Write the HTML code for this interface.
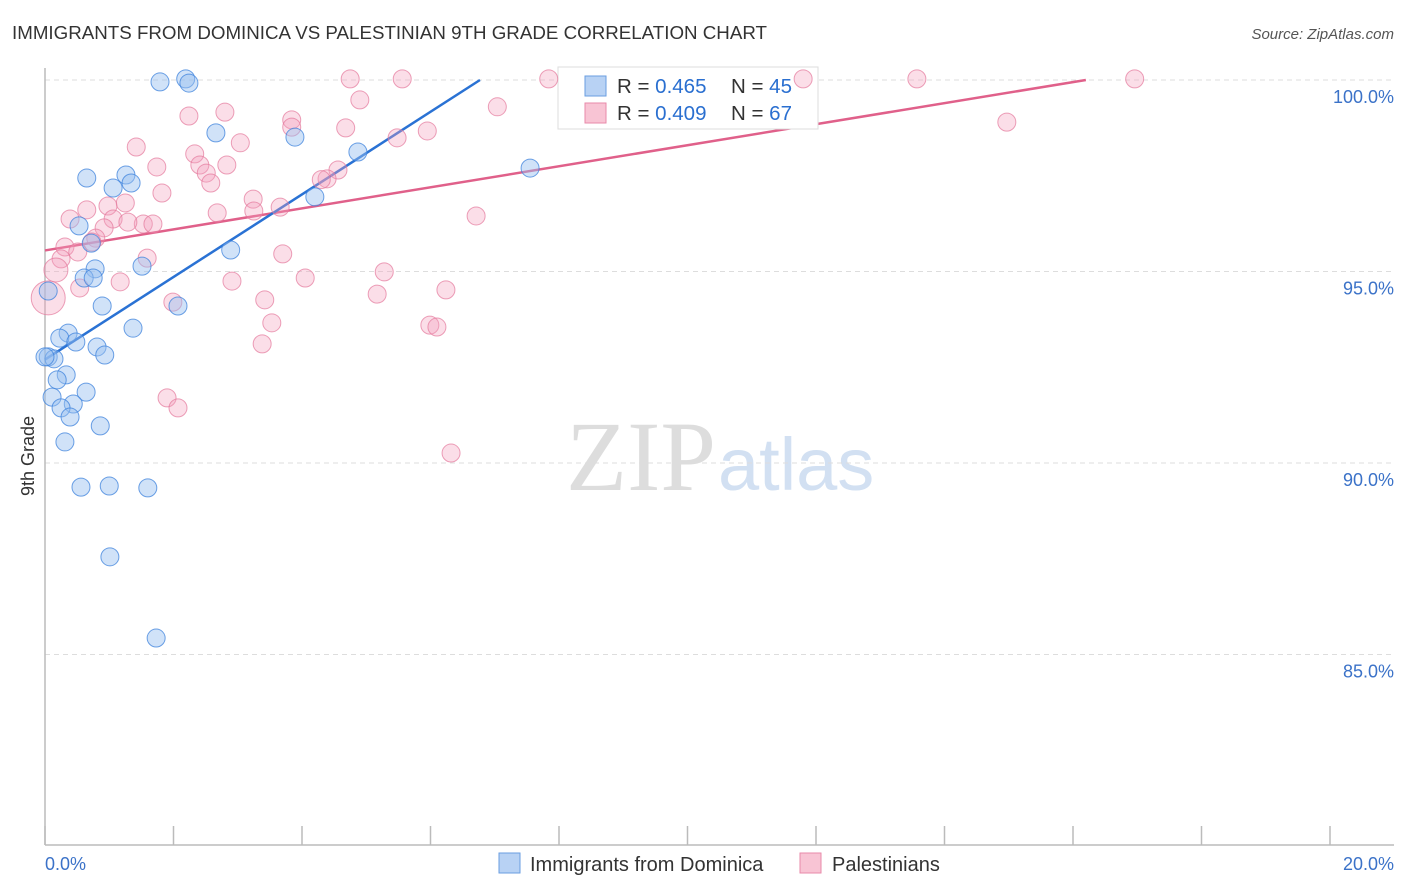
<!DOCTYPE html>
<html><head><meta charset="utf-8">
<style>
body{margin:0;background:#fff;font-family:"Liberation Sans",sans-serif;}
#wrap{position:relative;width:1406px;height:892px;overflow:hidden;}
</style></head>
<body>
<div id="wrap">
<svg id="chart" width="1406" height="892" xmlns="http://www.w3.org/2000/svg">
<text x="12" y="39" font-size="18" fill="#333" textLength="755" lengthAdjust="spacingAndGlyphs">IMMIGRANTS FROM DOMINICA VS PALESTINIAN 9TH GRADE CORRELATION CHART</text>
<text x="1394" y="39" font-size="15" fill="#555" text-anchor="end" font-style="italic">Source: ZipAtlas.com</text>
<text x="716" y="490" font-size="100" fill="#ddd" text-anchor="end" font-family="Liberation Serif,serif">ZIP</text>
<text x="718" y="490" font-size="74" fill="#d2e0f2">atlas</text>
<g id="grid"></g>
<line x1="45" y1="68" x2="45" y2="845" stroke="#bbb" stroke-width="1.5"/>
<line x1="45" y1="845" x2="1394" y2="845" stroke="#bbb" stroke-width="1.5"/>
<text transform="translate(34,456) rotate(-90)" font-size="18" fill="#333" text-anchor="middle">9th Grade</text>
<text x="45" y="870" font-size="18" fill="#3b72c8">0.0%</text>
<text x="1394" y="870" font-size="18" fill="#3b72c8" text-anchor="end">20.0%</text>
<g id="lines"></g>
<g>
<rect x="558" y="67" width="260" height="62" fill="#fff" stroke="#ddd"/>
<rect x="585" y="76" width="21" height="20" fill="#b8d2f4" stroke="#6a9ee0"/>
<rect x="585" y="103" width="21" height="20" fill="#f8c4d4" stroke="#e88aaa"/>
<text x="617" y="93" font-size="20.5" fill="#333">R = <tspan fill="#2a6fd0">0.465</tspan><tspan x="731">N = </tspan><tspan fill="#2a6fd0">45</tspan></text>
<text x="617" y="120" font-size="20.5" fill="#333">R = <tspan fill="#2a6fd0">0.409</tspan><tspan x="731">N = </tspan><tspan fill="#2a6fd0">67</tspan></text>
</g>
<g id="pts"></g>
<g>
<rect x="499" y="853" width="21" height="20" fill="#b8d2f4" stroke="#6a9ee0"/>
<text x="530" y="871" font-size="20" fill="#333">Immigrants from Dominica</text>
<rect x="800" y="853" width="21" height="20" fill="#f8c4d4" stroke="#e88aaa"/>
<text x="832" y="871" font-size="20" fill="#333">Palestinians</text>
</g>
</svg>
</div>
<script>
const yTicks=[100,95,90,85];
const yTickLabels=["100.0%","95.0%","90.0%","85.0%"];
const xTicks=[0,2,4,6,8,10,12,14,16,18,20];
const blueX=[1.79,2.19,2.24,2.66,3.89,4.87,7.55,0.65,1.06,1.26,1.34,4.20,0.53,0.72,2.89,1.51,0.78,0.61,0.75,0.05,0.89,2.07,1.37,0.36,0.23,0.48,0.81,0.93,0.05,0.14,0.33,0.19,0.64,0.11,0.44,0.25,0.39,0.86,0.31,0.56,1.00,1.60,1.01,1.73,0.0];
const blueY=[99.95,100.03,99.92,98.62,98.51,98.12,97.70,97.44,97.18,97.52,97.31,96.95,96.19,95.74,95.56,95.14,95.07,94.83,94.83,94.49,94.10,94.10,93.52,93.39,93.26,93.16,93.03,92.82,92.77,92.72,92.30,92.17,91.85,91.72,91.54,91.44,91.20,90.97,90.55,89.37,89.40,89.35,87.55,85.43,92.77];
const pinkX=[4.75,5.56,7.84,11.80,13.57,16.96,4.90,7.04,2.80,2.24,3.84,4.68,3.84,5.48,5.95,3.04,1.42,2.33,1.74,2.41,2.83,2.51,2.58,4.56,4.39,1.82,3.24,0.98,1.25,3.25,2.68,3.66,6.71,0.65,0.39,1.06,1.53,1.29,1.68,0.92,0.79,0.73,0.31,0.51,0.25,1.59,3.70,0.17,5.28,1.17,2.91,4.05,0.54,6.24,5.17,3.42,1.99,0.05,3.53,5.99,6.10,3.38,1.90,2.07,6.32,14.97,4.30];
const pinkY=[100.03,100.03,100.03,100.03,100.03,100.03,99.48,99.30,99.16,99.06,98.96,98.75,98.77,98.49,98.67,98.36,98.25,98.07,97.73,97.78,97.78,97.57,97.31,97.65,97.42,97.05,96.89,96.71,96.79,96.58,96.53,96.68,96.45,96.61,96.37,96.37,96.24,96.29,96.24,96.14,95.87,95.77,95.64,95.51,95.33,95.35,95.46,95.04,94.99,94.73,94.75,94.83,94.57,94.52,94.41,94.26,94.20,94.31,93.66,93.60,93.55,93.11,91.70,91.44,90.26,98.90,97.40];
const pinkBig=[0,0,0,0,0,0,0,0,0,0,0,0,0,0,0,0,0,0,0,0,0,0,0,0,0,0,0,0,0,0,0,0,0,0,0,0,0,0,0,0,0,0,0,0,0,0,0,1,0,0,0,0,0,0,0,0,0,2,0,0,0,0,0,0,0,0,0];
const blueTrend=[92.7,1.0783];   // intercept, slope per %
const pinkTrend=[95.55,0.2747];
const blueTrendEnd=6.77, pinkTrendEnd=16.2;

const NS="http://www.w3.org/2000/svg";
const xs=v=>45+v*64.25;
const ys=v=>80+(100-v)*38.3;
const grid=document.getElementById('grid');
yTicks.forEach((t,i)=>{
  const l=document.createElementNS(NS,'line');
  l.setAttribute('x1',45);l.setAttribute('x2',1394);
  l.setAttribute('y1',ys(t));l.setAttribute('y2',ys(t));
  l.setAttribute('stroke','#ddd');l.setAttribute('stroke-dasharray','5,4');
  
  
  grid.appendChild(l);
  const tx=document.createElementNS(NS,'text');
  tx.setAttribute('x',1394);tx.setAttribute('y',ys(t)+23);
  tx.setAttribute('text-anchor','end');tx.setAttribute('font-size','18');tx.setAttribute('fill','#3b72c8');
  tx.textContent=yTickLabels[i];
  
  
  grid.appendChild(tx);
});
xTicks.forEach(t=>{
  const l=document.createElementNS(NS,'line');
  l.setAttribute('x1',xs(t));l.setAttribute('x2',xs(t));
  l.setAttribute('y1',826);l.setAttribute('y2',845);
  l.setAttribute('stroke','#bbb');l.setAttribute('stroke-width','1.5');
  
  
  grid.appendChild(l);
});
const pts=document.getElementById('pts');
pinkX.forEach((x,i)=>{
  const c=document.createElementNS(NS,'circle');
  const r=pinkBig[i]==2?17:pinkBig[i]==1?12:9;
  c.setAttribute('cx',xs(x));c.setAttribute('cy',ys(pinkY[i]));c.setAttribute('r',r);
  c.setAttribute('fill','rgba(244,160,190,0.35)');c.setAttribute('stroke','rgba(228,120,155,0.7)');
  
  
  pts.appendChild(c);
});
blueX.forEach((x,i)=>{
  const c=document.createElementNS(NS,'circle');
  c.setAttribute('cx',xs(x));c.setAttribute('cy',ys(blueY[i]));c.setAttribute('r',9);
  c.setAttribute('fill','rgba(150,190,240,0.45)');c.setAttribute('stroke','rgba(60,130,220,0.75)');
  
  
  pts.appendChild(c);
});
const lines=document.getElementById('lines');
function trend(tr,end,col,name){
  const l=document.createElementNS(NS,'line');
  l.setAttribute('x1',xs(0));l.setAttribute('y1',ys(tr[0]));
  l.setAttribute('x2',xs(end));l.setAttribute('y2',ys(tr[0]+tr[1]*end));
  l.setAttribute('stroke',col);l.setAttribute('stroke-width','2.5');
  
  
  lines.appendChild(l);
}
trend(pinkTrend,pinkTrendEnd,'#e0608a','trendline-palestinians');
trend(blueTrend,blueTrendEnd,'#2a72d4','trendline-dominica');
</script>
</body></html>
